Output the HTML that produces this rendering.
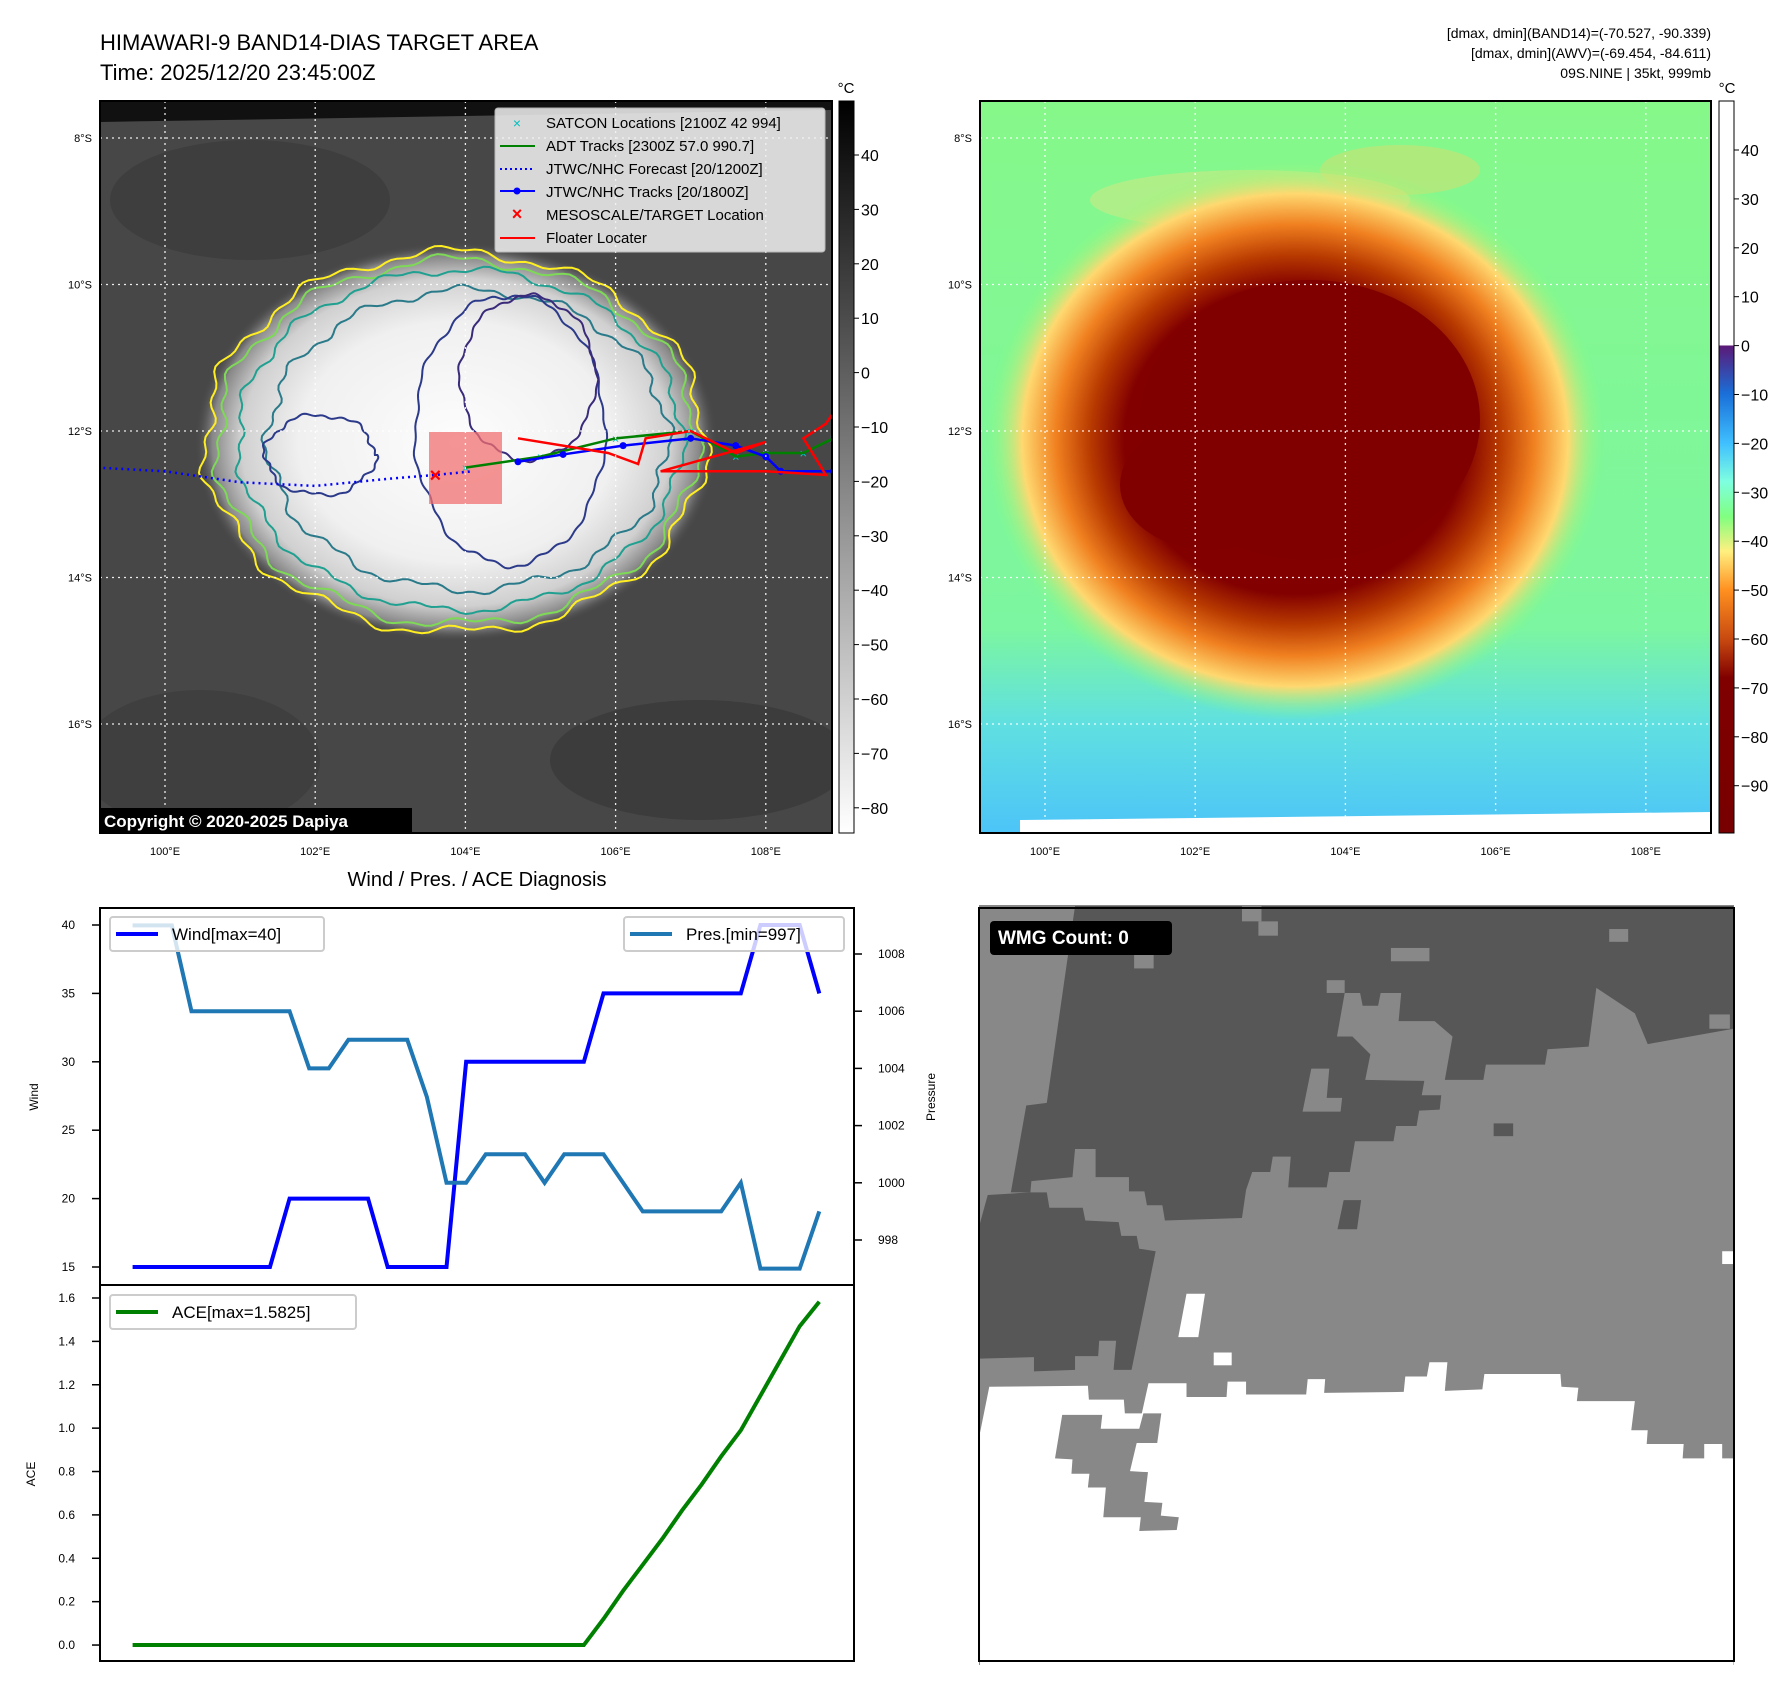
<!DOCTYPE html>
<html><head><meta charset="utf-8"><style>
body{margin:0;background:#fff;}
svg{display:block;font-family:"Liberation Sans","DejaVu Sans",sans-serif;}
</style></head><body>
<svg id="fig" width="1792" height="1690" viewBox="0 0 1792 1690">
<defs>
<radialGradient id="cloud1" cx="0.5" cy="0.5" r="0.5">
<stop offset="0" stop-color="#fdfdfd"/><stop offset="0.6" stop-color="#f0f0f0"/><stop offset="0.82" stop-color="#d0d0d0"/><stop offset="0.93" stop-color="#888"/><stop offset="1" stop-color="#444" stop-opacity="0"/>
</radialGradient>
<radialGradient id="core2" cx="0.5" cy="0.5" r="0.5">
<stop offset="0" stop-color="#800000"/><stop offset="0.55" stop-color="#820000"/><stop offset="0.66" stop-color="#b83a00"/><stop offset="0.77" stop-color="#f08020"/><stop offset="0.88" stop-color="#ffd870"/><stop offset="1" stop-color="#80ff80" stop-opacity="0"/>
</radialGradient>
<linearGradient id="bg2" x1="0" y1="0" x2="0" y2="1">
<stop offset="0" stop-color="#86f88a"/><stop offset="0.72" stop-color="#7cf6a0"/><stop offset="0.85" stop-color="#60e0e0"/><stop offset="1" stop-color="#4cc4f8"/>
</linearGradient>
<linearGradient id="cb1" x1="0" y1="0" x2="0" y2="1">
<stop offset="0" stop-color="#000"/><stop offset="1" stop-color="#fff"/>
</linearGradient>
<linearGradient id="cb2" x1="0" y1="0" x2="0" y2="1">
<stop offset="0" stop-color="#fff"/><stop offset="0.333" stop-color="#fff"/><stop offset="0.335" stop-color="#5a1a78"/>
<stop offset="0.40" stop-color="#1a6fd8"/><stop offset="0.468" stop-color="#40c0ff"/><stop offset="0.52" stop-color="#7fffe0"/>
<stop offset="0.568" stop-color="#80ff80"/><stop offset="0.615" stop-color="#fff080"/><stop offset="0.668" stop-color="#ff9020"/>
<stop offset="0.735" stop-color="#c84a10"/><stop offset="0.788" stop-color="#800000"/><stop offset="1" stop-color="#780000"/>
</linearGradient>
<clipPath id="clip1"><rect x="100" y="101" width="732" height="732"/></clipPath>
<clipPath id="clip2"><rect x="980" y="101" width="731" height="732"/></clipPath>
</defs>

<text x="100" y="50" font-size="22">HIMAWARI-9 BAND14-DIAS TARGET AREA</text>
<text x="100" y="80" font-size="22">Time: 2025/12/20 23:45:00Z</text>
<g font-size="14" text-anchor="end">
<text x="1711" y="38">[dmax, dmin](BAND14)=(-70.527, -90.339)</text>
<text x="1711" y="58">[dmax, dmin](AWV)=(-69.454, -84.611)</text>
<text x="1711" y="78">09S.NINE | 35kt, 999mb</text>
</g>

<g clip-path="url(#clip1)">
<rect x="100" y="101" width="732" height="732" fill="#474747"/>
<ellipse cx="250" cy="200" rx="140" ry="60" fill="#3a3a3a" opacity="0.7"/>
<ellipse cx="700" cy="760" rx="150" ry="60" fill="#383838" opacity="0.7"/>
<ellipse cx="200" cy="760" rx="120" ry="70" fill="#3c3c3c" opacity="0.7"/>
<ellipse cx="456" cy="442" rx="262" ry="200" fill="url(#cloud1)"/>
<polygon points="100,101 832,101 832,110 100,122" fill="#111"/>
<g id="contours" fill="none" stroke-width="2"></g>
<rect id="target-box" x="429" y="432" width="73" height="72" fill="#f27070" opacity="0.75"/>
<g id="tracks"></g>
<g id="grid1" stroke="#fff" stroke-width="1.3" stroke-dasharray="2,4" opacity="0.9"></g>
<rect x="100" y="808" width="312" height="25" fill="#000"/>
<text x="104" y="827" font-size="17" font-weight="bold" fill="#fff">Copyright © 2020-2025 Dapiya</text>
</g>
<rect x="100" y="101" width="732" height="732" fill="none" stroke="#000" stroke-width="2"/>

<g font-size="15">
<rect x="495" y="108" width="330" height="144" fill="#f2f2f2" opacity="0.85" rx="3" stroke="#ccc"/>
<g><text x="517" y="128" fill="#00c0c0" font-size="14" text-anchor="middle">×</text><text x="546" y="128">SATCON Locations [2100Z 42 994]</text></g>
<g><line x1="500" y1="146" x2="535" y2="146" stroke="#008000" stroke-width="2"/><text x="546" y="151">ADT Tracks [2300Z 57.0 990.7]</text></g>
<g><line x1="500" y1="169" x2="535" y2="169" stroke="#0000ff" stroke-width="2" stroke-dasharray="2,3"/><text x="546" y="174">JTWC/NHC Forecast [20/1200Z]</text></g>
<g><line x1="500" y1="191" x2="535" y2="191" stroke="#0000ff" stroke-width="2"/><circle cx="517" cy="191" r="3.5" fill="#00f"/><text x="546" y="197">JTWC/NHC Tracks [20/1800Z]</text></g>
<g><text x="517" y="220" fill="#f00" font-size="18" font-weight="bold" text-anchor="middle">×</text><text x="546" y="220">MESOSCALE/TARGET Location</text></g>
<g><line x1="500" y1="238" x2="535" y2="238" stroke="#f00" stroke-width="2"/><text x="546" y="243">Floater Locater</text></g>
</g>

<rect x="839" y="101" width="15" height="732" fill="url(#cb1)" stroke="#000" stroke-width="1"/>
<text x="846" y="93" font-size="15" text-anchor="middle">°C</text>
<g id="cb1ticks" font-size="16"></g>

<g clip-path="url(#clip2)">
<rect x="980" y="101" width="731" height="732" fill="url(#bg2)"/>
<ellipse cx="1250" cy="200" rx="160" ry="30" fill="#ffe080" opacity="0.35"/>
<ellipse cx="1400" cy="170" rx="80" ry="25" fill="#ffd060" opacity="0.35"/>
<ellipse cx="1295" cy="440" rx="310" ry="280" fill="url(#core2)"/>
<ellipse cx="1310" cy="420" rx="170" ry="140" fill="#800000"/>
<ellipse cx="1210" cy="485" rx="90" ry="65" fill="#800000"/>
<polygon points="1020,820 1711,812 1711,833 1020,833" fill="#fff"/>
<g id="grid2" stroke="#fff" stroke-width="1.3" stroke-dasharray="2,4" opacity="0.9"></g>
</g>
<rect x="980" y="101" width="731" height="732" fill="none" stroke="#000" stroke-width="2"/>
<rect x="1719" y="101" width="15" height="732" fill="url(#cb2)" stroke="#000" stroke-width="1"/>
<text x="1727" y="93" font-size="15" text-anchor="middle">°C</text>
<g id="cb2ticks" font-size="16"></g>
<g id="maplabels" font-size="11"></g>

<text x="477" y="886" font-size="20" text-anchor="middle">Wind / Pres. / ACE Diagnosis</text>
<g id="chart"></g>
<rect x="100" y="908" width="754" height="377" fill="none" stroke="#000" stroke-width="2"/>
<rect x="100" y="1285" width="754" height="376" fill="none" stroke="#000" stroke-width="2"/>
<text transform="translate(38,1097) rotate(-90)" font-size="12" text-anchor="middle">Wind</text>
<text transform="translate(935,1097) rotate(-90)" font-size="12" text-anchor="middle">Pressure</text>
<text transform="translate(35,1474) rotate(-90)" font-size="12" text-anchor="middle">ACE</text>
<g font-size="17">
<g><rect x="110" y="917" width="214" height="34" fill="#fff" fill-opacity="0.8" stroke="#ccc" stroke-width="2" rx="3"/><line x1="116" y1="934" x2="158" y2="934" stroke="#0000ff" stroke-width="4"/><text x="172" y="940">Wind[max=40]</text></g>
<g><rect x="624" y="917" width="220" height="34" fill="#fff" fill-opacity="0.8" stroke="#ccc" stroke-width="2" rx="3"/><line x1="630" y1="934" x2="672" y2="934" stroke="#1f77b4" stroke-width="4"/><text x="686" y="940">Pres.[min=997]</text></g>
<g><rect x="110" y="1295" width="246" height="34" fill="#fff" fill-opacity="0.8" stroke="#ccc" stroke-width="2" rx="3"/><line x1="116" y1="1312" x2="158" y2="1312" stroke="#008000" stroke-width="4"/><text x="172" y="1318">ACE[max=1.5825]</text></g>
</g>

<g>
<svg x="979" y="905" width="755" height="760" viewBox="28 28 1470 1486" preserveAspectRatio="none">
<rect x="28" y="28" width="1470" height="1486" fill="#888"/>
<polygon fill="#575757" points="215,30 1497,30 1497,270 1330,300 1305,240 1230,190 1215,305 1135,310 1130,340 1015,340 1010,370 935,370 950,285 915,255 845,255 850,200 810,200 805,225 775,225 770,200 740,200 725,285 755,285 790,320 780,370 895,372 890,400 928,400 925,428 885,430 880,460 840,460 835,490 760,490 750,550 710,550 705,580 630,580 635,520 600,520 595,550 560,550 548,585 540,640 390,645 385,615 355,615 350,588 320,588 320,560 255,560 255,505 215,505 210,560 130,568 128,590 90,590 120,420 160,415"/>
<polygon fill="#888" points="675,348 710,348 705,405 735,405 732,432 658,432"/>
<polygon fill="#575757" points="45,595 128,590 160,590 165,620 230,620 235,645 300,648 305,675 335,675 340,700 372,705 325,937 290,937 295,880 262,880 260,910 215,910 215,937 135,940 135,912 30,915 30,650"/>
<g fill="#888"><rect x="330" y="125" width="38" height="27"/><rect x="830" y="112" width="75" height="26"/><rect x="1255" y="75" width="37" height="25"/><rect x="705" y="175" width="35" height="25"/><rect x="540" y="30" width="38" height="30"/><rect x="572" y="60" width="38" height="28"/><rect x="1450" y="242" width="40" height="28"/></g>
<g fill="#575757"><rect x="1030" y="455" width="38" height="25"/><polygon points="738,605 772,605 764,662 726,662"/></g>
<polygon fill="#fff" points="30,1060 48,970 240,968 242,995 310,995 312,1022 345,1022 358,963 432,963 432,990 510,990 512,960 548,960 548,985 665,985 668,955 702,955 700,982 855,980 858,950 900,950 905,922 940,922 935,978 1008,975 1012,945 1160,945 1162,970 1195,972 1192,998 1305,998 1298,1055 1330,1055 1328,1082 1400,1082 1398,1110 1440,1110 1440,1082 1475,1082 1475,1110 1497,1110 1497,1514 30,1514"/>
<polygon fill="#888" points="190,1025 268,1025 265,1052 340,1052 348,1022 383,1022 375,1080 335,1080 322,1135 357,1137 350,1195 385,1197 382,1222 417,1225 413,1250 340,1252 343,1225 270,1225 275,1167 240,1167 243,1140 208,1140 210,1112 176,1110"/>
<g fill="#fff"><polygon points="432,788 468,788 455,873 416,873"/><rect x="485" y="903" width="35" height="25"/><rect x="1475" y="705" width="22" height="25"/></g>
</svg>
<rect x="979" y="908" width="755" height="753" fill="none" stroke="#000" stroke-width="2"/>
<rect x="990" y="921" width="182" height="34" rx="4" fill="#000"/>
<text x="998" y="944" font-size="19" font-weight="bold" fill="#fff">WMG Count: 0</text>
</g>

<script>
const timeIndex = [0,1,2,3,4,5,6,7,8,9,10,11,12,13,14,15,16,17,18,19,20,21,22,23,24,25,26,27,28,29,30,31,32,33,34,35];
const windValues = [15,15,15,15,15,15,15,15,20,20,20,20,20,15,15,15,15,30,30,30,30,30,30,30,35,35,35,35,35,35,35,35,40,40,40,35];
const pressureValues = [1009,1009,1009,1006,1006,1006,1006,1006,1006,1004,1004,1005,1005,1005,1005,1003,1000,1000,1001,1001,1001,1000,1001,1001,1001,1000,999,999,999,999,999,1000,997,997,997,999];
const aceValues = [0,0,0,0,0,0,0,0,0,0,0,0,0,0,0,0,0,0,0,0,0,0,0,0,0.12,0.25,0.37,0.49,0.62,0.74,0.87,0.99,1.15,1.31,1.47,1.5825];
const windTicks = [15,20,25,30,35,40];
const pressureTicks = [998,1000,1002,1004,1006,1008];
const aceTicks = [0.0,0.2,0.4,0.6,0.8,1.0,1.2,1.4,1.6];
const lonTicks = [100,102,104,106,108];
const latTicks = [8,10,12,14,16];
const grayTicks = [40,30,20,10,0,-10,-20,-30,-40,-50,-60,-70,-80];
const awvTicks = [40,30,20,10,0,-10,-20,-30,-40,-50,-60,-70,-80,-90];
const forecastLon = [99.1,100,101,102,103,103.6,104.1];
const forecastLat = [12.5,12.55,12.7,12.75,12.65,12.6,12.55];
const jtwcLon = [104.7,105.3,106.1,107.0,107.6,108.0,108.2,108.9,109.0];
const jtwcLat = [12.42,12.32,12.2,12.1,12.2,12.35,12.55,12.55,12.45];
const adtLon = [104.0,105.0,106.0,107.0,107.6,108.0,108.5,108.9,109.0];
const adtLat = [12.5,12.35,12.1,12.0,12.35,12.3,12.3,12.1,12.05];
const floaterLon = [104.7,105.9,106.3,106.4,107.0,107.6,108.0,106.6,108.0,108.8,108.5,108.8,109.0];
const floaterLat = [12.1,12.3,12.45,12.1,12.0,12.3,12.15,12.55,12.55,12.6,12.1,11.9,11.6];
const targetLon = 103.6, targetLat = 12.6;

const NS='http://www.w3.org/2000/svg';
function mk(tag, attrs, parent){const e=document.createElementNS(NS,tag);for(const k in attrs)e.setAttribute(k,attrs[k]);parent.appendChild(e);return e;}

const xIdx = i => 132.6 + i*19.62;
const yWind = w => 925 + (40-w)*13.68;
const yPres = p => 954 + (1008-p)*28.6;
const yAce = a => 1298 + (1.6-a)*216.9;
const lonX = lon => 165 + (lon-100)*75.1;
const latY = lat => 138 + (lat-8)*73.25;

const chart=document.getElementById('chart');
function line(xs, ys, color, name){
  const p=mk('polyline',{points:xs.map((x,i)=>x+','+ys[i]).join(' '),fill:'none',stroke:color,'stroke-width':4,'stroke-linejoin':'miter'},chart);
  
  
}
line(timeIndex.map(xIdx), windValues.map(yWind), '#0000ff', 'wind-line');
line(timeIndex.map(xIdx), pressureValues.map(yPres), '#1f77b4', 'pressure-line');
line(timeIndex.map(xIdx), aceValues.map(yAce), '#008000', 'ace-line');

windTicks.forEach(v=>{const y=yWind(v);mk('line',{x1:92,y1:y,x2:100,y2:y,stroke:'#000','stroke-width':1.5},chart);
  const t=mk('text',{x:75,y:y+4,'font-size':12,'text-anchor':'end'},chart);t.textContent=v;
  
  });
pressureTicks.forEach(v=>{const y=yPres(v);mk('line',{x1:854,y1:y,x2:862,y2:y,stroke:'#000','stroke-width':1.5},chart);
  const t=mk('text',{x:878,y:y+4,'font-size':12},chart);t.textContent=v;
  
  });
aceTicks.forEach(v=>{const y=yAce(v);mk('line',{x1:92,y1:y,x2:100,y2:y,stroke:'#000','stroke-width':1.5},chart);
  const t=mk('text',{x:75,y:y+4,'font-size':12,'text-anchor':'end'},chart);t.textContent=v.toFixed(1);
  
  });

const g1=document.getElementById('grid1'), g2=document.getElementById('grid2'), ml=document.getElementById('maplabels');
lonTicks.forEach(lon=>{const x=lonX(lon);
  mk('line',{x1:x,y1:101,x2:x,y2:833},g1);mk('line',{x1:x+880,y1:101,x2:x+880,y2:833},g2);
  [0,880].forEach(off=>{const t=mk('text',{x:x+off,y:855,'text-anchor':'middle'},ml);t.textContent=lon+'°E';
    
    });});
latTicks.forEach(lat=>{const y=latY(lat);
  mk('line',{x1:100,y1:y,x2:832,y2:y},g1);mk('line',{x1:980,y1:y,x2:1711,y2:y},g2);
  [0,880].forEach(off=>{const t=mk('text',{x:92+off,y:y+4,'text-anchor':'end'},ml);t.textContent=lat+'°S';
    
    });});

const c1=document.getElementById('cb1ticks'), c2=document.getElementById('cb2ticks');
grayTicks.forEach(v=>{const y=155+(40-v)*5.44;mk('line',{x1:854,y1:y,x2:859,y2:y,stroke:'#000'},c1);
  const t=mk('text',{x:861,y:y+6},c1);t.textContent=(v<0?'\u2212'+(-v):v);
  
  });
awvTicks.forEach(v=>{const y=150+(40-v)*4.89;mk('line',{x1:1734,y1:y,x2:1739,y2:y,stroke:'#000'},c2);
  const t=mk('text',{x:1741,y:y+6},c2);t.textContent=(v<0?'\u2212'+(-v):v);
  
  });

const cg=document.getElementById('contours');
function ring(cx,cy,rx,ry,amp,freq,phase,color,name){
  let d='';for(let k=0;k<=240;k++){const a=k/240*2*Math.PI;
    const r=1+amp*Math.sin(freq*a+phase)+amp*0.5*Math.sin(freq*3.1*a+phase*1.7);
    d+=(k?'L':'M')+(cx+rx*r*Math.cos(a)).toFixed(1)+','+(cy+ry*r*Math.sin(a)).toFixed(1);}
  const p=mk('path',{d:d+'Z',stroke:color},cg);
  
  
}
ring(455,442,250,190,0.025,11,0.3,'#ffee22','contour-yellow');
ring(457,442,240,182,0.025,11,0.5,'#7ed957','contour-green');
ring(460,440,222,170,0.02,13,1.1,'#20a090','contour-teal');
ring(468,440,200,150,0.025,12,2.0,'#2a7a8a','contour-teal-inner');
ring(510,430,95,135,0.02,9,0.4,'#2c3a8a','contour-navy');
ring(528,378,68,82,0.025,8,1.0,'#3a2a7a','contour-eye');
ring(320,455,55,40,0.05,6,0.5,'#2c3a8a','contour-navy-west');

const tg=document.getElementById('tracks');
function track(lons,lats,color,dash,name,dots){
  const p=mk('polyline',{points:lons.map((l,i)=>lonX(l)+','+latY(lats[i])).join(' '),fill:'none',stroke:color,'stroke-width':2.5},tg);
  if(dash)p.setAttribute('stroke-dasharray',dash);
  
  
  if(dots)lons.forEach((l,i)=>{mk('circle',{cx:lonX(l),cy:latY(lats[i]),r:3.5,fill:color},tg);});
}
adtLon.forEach((l,i)=>{const t=mk('text',{x:lonX(l),y:latY(adtLat[i])+5,'font-size':13,fill:'#00c8c8','text-anchor':'middle'},tg);t.textContent='×';});
track(forecastLon,forecastLat,'#0000ff','2,4','forecast-track',false);
track(adtLon,adtLat,'#008000',null,'adt-track',false);
track(jtwcLon,jtwcLat,'#0000ff',null,'jtwc-track',true);
track(floaterLon,floaterLat,'#ff0000',null,'floater-track',false);
const tx=mk('text',{x:lonX(targetLon),y:latY(targetLat)+7,'font-size':20,'font-weight':'bold',fill:'#f00','text-anchor':'middle'},tg);
tx.textContent='×';


</script>
</svg>
</body></html>
